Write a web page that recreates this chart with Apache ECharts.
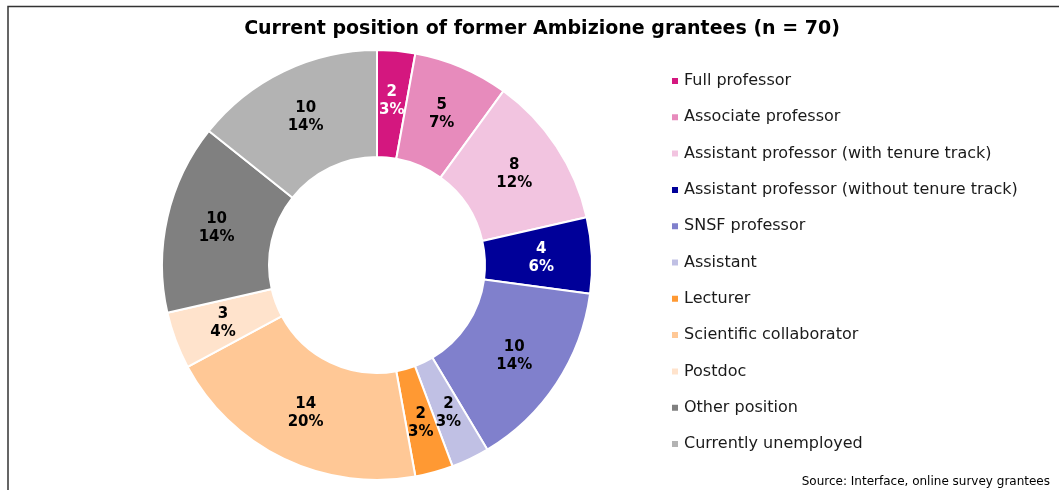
<!DOCTYPE html>
<html>
<head>
    <meta charset="UTF-8">
    <title>Ambizione grantees</title>
    <style type="text/css">
        html, body {
            margin: 0;
            padding: 0;
            background: #ffffff;
        }

        #chart {
            width: 1059px;
            height: 490px;
        }
    </style>
    <script type="text/javascript" src="https://cdn.jsdelivr.net/npm/echarts@6/dist/echarts.min.js"></script>
</head>
<body>
<div id="chart"></div>
<script type="text/javascript">
    var categories = ['Full professor', 'Associate professor', 'Assistant professor (with tenure track)',
        'Assistant professor (without tenure track)', 'SNSF professor', 'Assistant', 'Lecturer',
        'Scientific collaborator', 'Postdoc', 'Other position', 'Currently unemployed'];
    var counts = [2, 5, 8, 4, 10, 2, 2, 14, 3, 10, 10];
    var colors = ['#d4177f', '#e78bbc', '#f2c4e0', '#000099', '#8080cc', '#c0c0e4',
        '#ff9933', '#ffc896', '#ffe3cc', '#808080', '#b3b3b3'];
    var labelColors = ['#ffffff', '#000000', '#000000', '#ffffff', '#000000', '#000000',
        '#000000', '#000000', '#000000', '#000000', '#000000'];

    var font = 'DejaVu Sans, Verdana, sans-serif';

    var pieData = [];
    for (var i = 0; i < categories.length; i++) {
        pieData.push({
            name: categories[i],
            value: counts[i],
            itemStyle: {color: colors[i]},
            label: {color: labelColors[i]}
        });
    }

    var myChart = echarts.init(document.getElementById('chart'));
    var option = {
        animation: false,
        backgroundColor: '#ffffff',
        title: {
            text: 'Current position of former Ambizione grantees (n = 70)',
            left: 537,
            textAlign: 'center',
            top: 15,
            textStyle: {
                fontFamily: font,
                fontSize: 19,
                fontWeight: 'bold',
                color: '#000000'
            }
        },
        legend: {
            orient: 'vertical',
            left: 665,
            top: 67,
            icon: 'rect',
            itemWidth: 8,
            itemHeight: 8,
            itemGap: 18.3,
            textStyle: {
                fontFamily: font,
                fontSize: 16,
                lineHeight: 18,
                color: '#1a1a1a'
            },
            data: categories
        },
        graphic: [
            {
                type: 'polyline',
                shape: {points: [[8, 490], [8, 6.5], [1059, 6.5]]},
                style: {stroke: '#333333', lineWidth: 1.5, fill: null}
            },
            {
                type: 'text',
                right: 9,
                top: 476,
                style: {
                    text: 'Source: Interface, online survey grantees',
                    font: '12px DejaVu Sans, Verdana, sans-serif',
                    fill: '#000000'
                }
            }
        ],
        series: [{
            type: 'pie',
            center: [377, 265],
            radius: [108, 215],
            startAngle: 90,
            clockwise: true,
            percentPrecision: 0,
            avoidLabelOverlap: false,
            itemStyle: {
                borderColor: '#ffffff',
                borderWidth: 2
            },
            label: {
                show: true,
                position: 'inside',
                formatter: '{c}\n{d}%',
                fontFamily: font,
                fontSize: 15,
                fontWeight: 'bold',
                lineHeight: 18
            },
            labelLine: {show: false},
            emphasis: {disabled: true},
            data: pieData
        }]
    };
    myChart.setOption(option);
</script>
</body>
</html>
